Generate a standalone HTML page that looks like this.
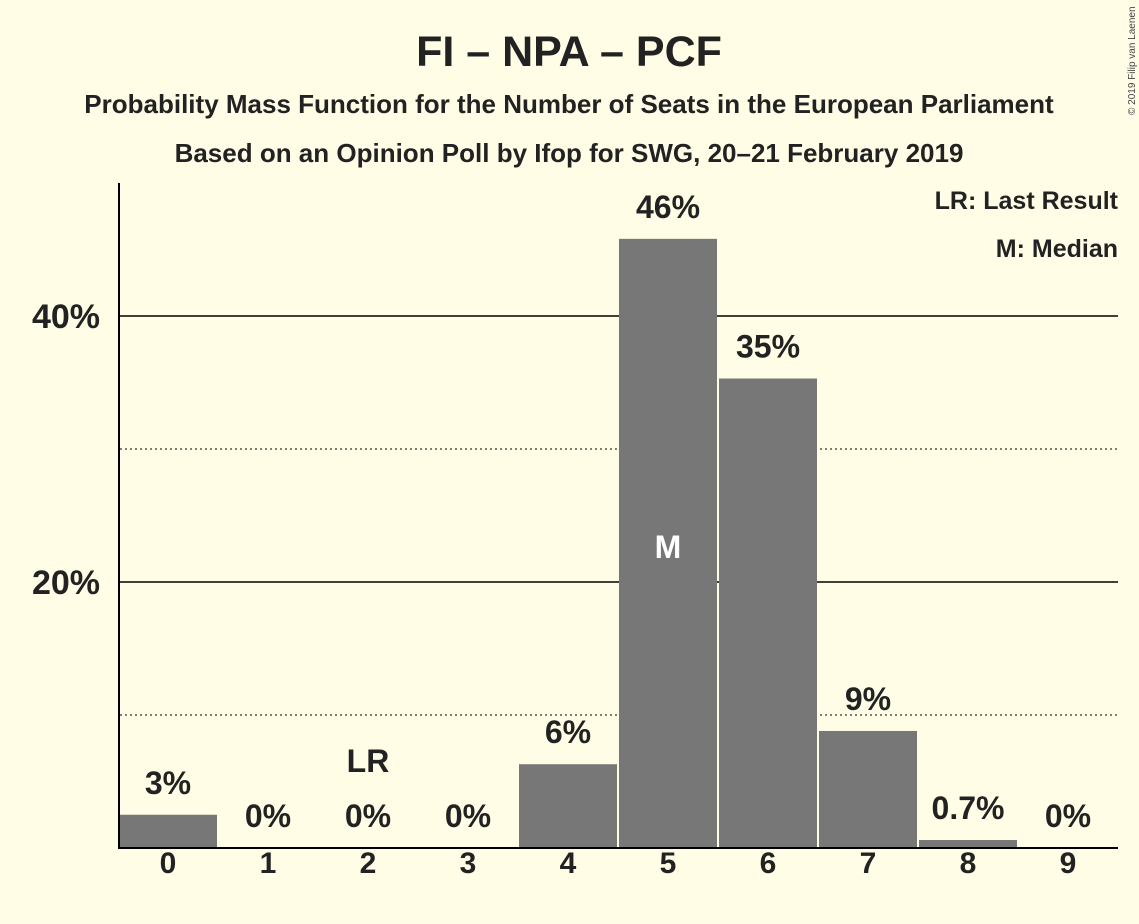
<!DOCTYPE html>
<html><head><meta charset="utf-8"><style>
html,body{margin:0;padding:0;background:#fffde6;}
svg{display:block;font-family:"Liberation Sans",sans-serif;}
</style></head><body>
<svg id="chart" width="1139" height="924" viewBox="0 0 1139 924">
<rect width="1139" height="924" fill="#fffde6"/>
<text x="569" y="66" text-anchor="middle" font-size="43" font-weight="bold" fill="#222">FI – NPA – PCF</text>
<text x="569" y="113" text-anchor="middle" font-size="26" font-weight="bold" fill="#222">Probability Mass Function for the Number of Seats in the European Parliament</text>
<text x="569" y="162" text-anchor="middle" font-size="26" font-weight="bold" fill="#222">Based on an Opinion Poll by Ifop for SWG, 20–21 February 2019</text>
<text x="1118" y="209" text-anchor="end" font-size="25" font-weight="bold" fill="#222">LR: Last Result</text>
<text x="1118" y="257" text-anchor="end" font-size="25" font-weight="bold" fill="#222">M: Median</text>
<text transform="translate(1135,115) rotate(-90)" font-size="10" fill="#444">© 2019 Filip van Laenen</text>
<g id="grid"></g>
<g id="bars"></g>
<line x1="119" y1="183" x2="119" y2="849" stroke="#000" stroke-width="2"/>
<line x1="118" y1="848" x2="1118" y2="848" stroke="#000" stroke-width="2"/>
</svg>
<script>
const seats = [0,1,2,3,4,5,6,7,8,9];
const probs = [2.5,0,0,0,6.3,45.8,35.3,8.8,0.6,0];
const valueLabels = ["3%","0%","0%","0%","6%","46%","35%","9%","0.7%","0%"];
const yTicks = [10,20,30,40];
const yTickLabels = ["","20%","","40%"];
const lastResult = 2;
const median = 5;

const NS="http://www.w3.org/2000/svg";
const y = v => 848 - v*13.3;
const xc = i => 168 + i*100;
const grid=document.getElementById('grid'), bars=document.getElementById('bars');
function mk(tag, attrs, parent){const e=document.createElementNS(NS,tag);for(const k in attrs)e.setAttribute(k,attrs[k]);parent.appendChild(e);return e;}
yTicks.forEach((t,i)=>{
  const major = yTickLabels[i]!=="";
  const l=mk('line',{x1:120,x2:1118,y1:y(t),y2:y(t),stroke:'#000','stroke-width':major?1.5:1,'stroke-dasharray':major?'none':'2,3'},grid);
  
  
  if(major){
    const tx=mk('text',{x:100,y:y(t)+12,'text-anchor':'end','font-size':34,'font-weight':'bold',fill:'#222'},grid);
    tx.textContent=yTickLabels[i];
    
    
  }
});
seats.forEach((s,i)=>{
  const top=y(probs[i]);
  if(probs[i]>0){
    const r=mk('rect',{x:xc(i)-49,y:top,width:98,height:848-top,fill:'#777'},bars);
    
    
  }
  const lb=mk('text',{x:xc(i),y:top-21,'text-anchor':'middle','font-size':32,'font-weight':'bold',fill:'#222'},bars);
  lb.textContent=valueLabels[i];
  
  
  const xl=mk('text',{x:xc(i),y:873,'text-anchor':'middle','font-size':30,'font-weight':'bold',fill:'#222'},bars);
  xl.textContent=String(s);
  
  
  if(s===lastResult){
    const t=mk('text',{x:xc(i),y:top-76,'text-anchor':'middle','font-size':32,'font-weight':'bold',fill:'#222'},bars);
    t.textContent='LR';
    
    
  }
  if(s===median){
    const t=mk('text',{x:xc(i),y:558,'text-anchor':'middle','font-size':32,'font-weight':'bold',fill:'#fff'},bars);
    t.textContent='M';
    
    
  }
});
</script>
</body></html>
